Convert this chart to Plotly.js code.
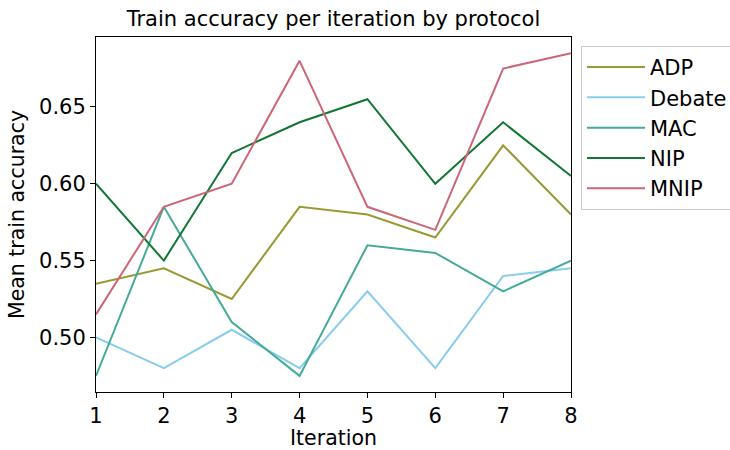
<!DOCTYPE html>
<html>
<head>
<meta charset="utf-8">
<script src="https://cdn.plot.ly/plotly-3.0.1.min.js"></script>
<style>html,body{margin:0;padding:0;background:#fff;}#chart{width:730px;height:450px;}</style>
</head>
<body>
<div id="chart"></div>
<script>
const iterations = [1, 2, 3, 4, 5, 6, 7, 8];
const protocols = ["ADP", "Debate", "MAC", "NIP", "MNIP"];
const adp    = [0.535, 0.545, 0.525, 0.585, 0.580, 0.565, 0.625, 0.580];
const debate = [0.500, 0.480, 0.505, 0.480, 0.530, 0.480, 0.540, 0.545];
const mac    = [0.475, 0.585, 0.510, 0.475, 0.560, 0.555, 0.530, 0.550];
const nip    = [0.600, 0.550, 0.620, 0.640, 0.655, 0.600, 0.640, 0.605];
const mnip   = [0.515, 0.585, 0.600, 0.680, 0.585, 0.570, 0.675, 0.685];
const yTicks = [0.50, 0.55, 0.60, 0.65];
const yTickLabels = ["0.50", "0.55", "0.60", "0.65"];
const colors = ["#999933", "#88CCEE", "#44AA99", "#117733", "#CC6677"];
const series = [adp, debate, mac, nip, mnip];

const traces = series.map((ys, i) => ({
  x: iterations, y: ys, name: protocols[i], type: "scatter", mode: "lines",
  line: {color: colors[i], width: 2}
}));

const font = {family: "DejaVu Sans", color: "#000"};
const layout = {
  width: 730, height: 450,
  margin: {l: 96, r: 159, t: 37, b: 58, autoexpand: false},
  paper_bgcolor: "#fff", plot_bgcolor: "#fff",
  font: Object.assign({size: 20}, font),
  title: {text: "Train accuracy per iteration by protocol", font: Object.assign({size: 21}, font),
          x: 0.5, xref: "paper", xanchor: "center", y: 1, yref: "paper", yanchor: "bottom", pad: {b: 11}},
  xaxis: {
    range: [1, 8], tickvals: iterations, ticks: "outside", ticklen: 5, tickwidth: 1, tickcolor: "#000",
    showline: true, linecolor: "#000", linewidth: 1, mirror: true, showgrid: false, zeroline: false,
    tickfont: Object.assign({size: 21}, font),
    title: {text: "Iteration", font: Object.assign({size: 20.5}, font), standoff: 2}
  },
  yaxis: {
    range: [0.4645, 0.6955], tickvals: yTicks, ticktext: yTickLabels,
    ticks: "outside", ticklen: 5, tickwidth: 1, tickcolor: "#000",
    showline: true, linecolor: "#000", linewidth: 1, mirror: true, showgrid: false, zeroline: false,
    tickfont: Object.assign({size: 21}, font),
    title: {text: "Mean train accuracy", font: Object.assign({size: 20.5}, font), standoff: 8}
  },
  legend: {
    x: 1.021, xanchor: "left", y: 0.975, yanchor: "top",
    bordercolor: "#cccccc", borderwidth: 1, bgcolor: "#fff",
    font: Object.assign({size: 21}, font), tracegroupgap: 0, itemwidth: 58
  },
  showlegend: true
};
Plotly.newPlot("chart", traces, layout, {displayModeBar: false, staticPlot: true});
</script>
</body>
</html>
